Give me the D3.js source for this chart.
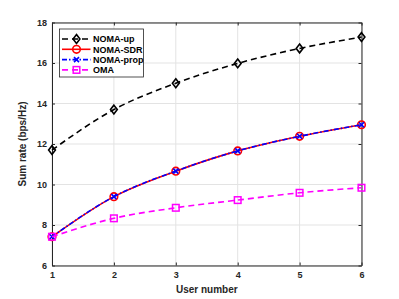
<!DOCTYPE html>
<html>
<head>
<meta charset="utf-8">
<script src="https://cdn.jsdelivr.net/npm/d3@7"></script>
<style>
  body { margin: 0; background: #fff; }
  svg text { font-family: "Liberation Sans", Arial, sans-serif; font-weight: bold; }
</style>
</head>
<body>
<svg id="chart" width="399" height="299"></svg>
<script>
// user count on x axis
const users = [1, 2, 3, 4, 5, 6];

// sum rate values
const nomaUp = [11.7, 13.7, 15.0, 15.98, 16.72, 17.28];
const nomaSdr = [7.42, 9.4, 10.66, 11.66, 12.38, 12.95];
const nomaProp = [7.42, 9.4, 10.66, 11.66, 12.38, 12.95];
const oma = [7.42, 8.33, 8.85, 9.23, 9.59, 9.84];

const yTicks = [6, 8, 10, 12, 14, 16, 18];

const series = [
  { name: 'NOMA-up', values: nomaUp, color: '#000000', dash: '6,4', marker: 'diamond', width: 1.6 },
  { name: 'NOMA-SDR', values: nomaSdr, color: '#ff0000', dash: null, marker: 'circle', width: 1.6 },
  { name: 'NOMA-prop', values: nomaProp, color: '#0000ff', dash: '5,2,1.5,2', marker: 'x', width: 1.6 },
  { name: 'OMA', values: oma, color: '#ff00ff', dash: '6,4', marker: 'square', width: 1.6 }
];

const margin = { left: 52, right: 37.5, top: 22.5, bottom: 33.5 };
const W = 399, H = 299;
const svg = d3.select('#chart');

let x = d3.scaleLinear().domain([1, 6]).range([margin.left, W - margin.right]);
let y = d3.scaleLinear().domain([6, 18]).range([H - margin.bottom, margin.top]);

// grid
svg.append('g')
  .selectAll('line.vgrid')
  .data(users)
  .enter()
  .append('line')
  .attr('x1', d => x(d)).attr('x2', d => x(d))
  .attr('y1', y(6)).attr('y2', y(18))
  .style('stroke', '#e3e3e3').style('stroke-width', 1);

svg.append('g')
  .selectAll('line.hgrid')
  .data(yTicks)
  .enter()
  .append('line')
  .attr('x1', x(1)).attr('x2', x(6))
  .attr('y1', d => y(d)).attr('y2', d => y(d))
  .style('stroke', '#e3e3e3').style('stroke-width', 1);

// axes, ticks inward
let xAxis = svg.append('g')
  .attr('transform', 'translate(0,' + y(6) + ')')
  .call(d3.axisBottom(x).tickValues(users).tickFormat(d3.format('d')).tickSizeInner(-3).tickSizeOuter(0).tickPadding(6));
let xAxisTop = svg.append('g')
  .attr('transform', 'translate(0,' + y(18) + ')')
  .call(d3.axisTop(x).tickValues(users).tickFormat('').tickSizeInner(-3).tickSizeOuter(0));
let yAxis = svg.append('g')
  .attr('transform', 'translate(' + x(1) + ',0)')
  .call(d3.axisLeft(y).tickValues(yTicks).tickSizeInner(-3).tickSizeOuter(0).tickPadding(5));
let yAxisRight = svg.append('g')
  .attr('transform', 'translate(' + x(6) + ',0)')
  .call(d3.axisRight(y).tickValues(yTicks).tickFormat('').tickSizeInner(-3).tickSizeOuter(0));

[xAxis, xAxisTop, yAxis, yAxisRight].forEach(function(g) {
  g.select('.domain').style('stroke', '#262626').style('stroke-width', 1);
  g.selectAll('.tick line').style('stroke', '#262626');
  g.selectAll('.tick text').style('fill', '#262626').style('font-size', '9px');
});

// axis labels
svg.append('text')
  .attr('x', (x(1) + x(6)) / 2)
  .attr('y', 293)
  .attr('text-anchor', 'middle')
  .style('font-size', '10px')
  .style('fill', '#262626')
  .text('User number');

svg.append('text')
  .attr('transform', 'translate(26,' + ((y(6) + y(18)) / 2) + ') rotate(-90)')
  .attr('text-anchor', 'middle')
  .style('font-size', '10px')
  .style('fill', '#262626')
  .text('Sum rate (bps/Hz)');

function draw_marker(g, type, color) {
  if (type === 'diamond') {
    g.append('path').attr('d', 'M0,-4.4L3.4,0L0,4.4L-3.4,0Z')
      .style('fill', 'none').style('stroke', color).style('stroke-width', 1.6);
  } else if (type === 'circle') {
    g.append('circle').attr('r', 3.8)
      .style('fill', 'none').style('stroke', color).style('stroke-width', 1.6);
  } else if (type === 'square') {
    g.append('rect').attr('x', -3.3).attr('y', -3.3).attr('width', 6.6).attr('height', 6.6)
      .style('fill', 'none').style('stroke', color).style('stroke-width', 1.5);
  } else if (type === 'x') {
    g.append('path').attr('d', 'M-2.5,-2.5L2.5,2.5M-2.5,2.5L2.5,-2.5')
      .style('fill', 'none').style('stroke', color).style('stroke-width', 1.6);
  }
}

let line = d3.line()
  .x(function(d, i) { return x(users[i]); })
  .y(function(d) { return y(d); })
  .curve(d3.curveMonotoneX);

// draw series
series.forEach(function(s) {
  let g = svg.append('g').attr('class', 'series');
  g.append('path')
    .datum(s.values)
    .attr('d', line)
    .style('fill', 'none')
    .style('stroke', s.color)
    .style('stroke-width', s.width)
    .style('stroke-dasharray', s.dash);
  s.values.forEach(function(v, i) {
    let m = g.append('g').attr('transform', 'translate(' + x(users[i]) + ',' + y(v) + ')');
    draw_marker(m, s.marker, s.color);
  });
});

// legend
let legend = svg.append('g').attr('transform', 'translate(59.5,29)');
legend.append('rect')
  .attr('width', 84).attr('height', 48)
  .style('fill', '#fff').style('stroke', '#262626').style('stroke-width', 0.8);

series.forEach(function(s, i) {
  let row = legend.append('g').attr('transform', 'translate(0,' + (10 + i * 10.3) + ')');
  row.append('line')
    .attr('x1', 2.5).attr('x2', 31)
    .style('stroke', s.color)
    .style('stroke-width', s.width)
    .style('stroke-dasharray', s.dash);
  let m = row.append('g').attr('transform', 'translate(17,0)');
  draw_marker(m, s.marker, s.color);
  row.append('text')
    .attr('x', 33.5).attr('y', 3.2)
    .style('font-size', '9px')
    .style('fill', '#000')
    .text(s.name);
});
</script>
</body>
</html>
